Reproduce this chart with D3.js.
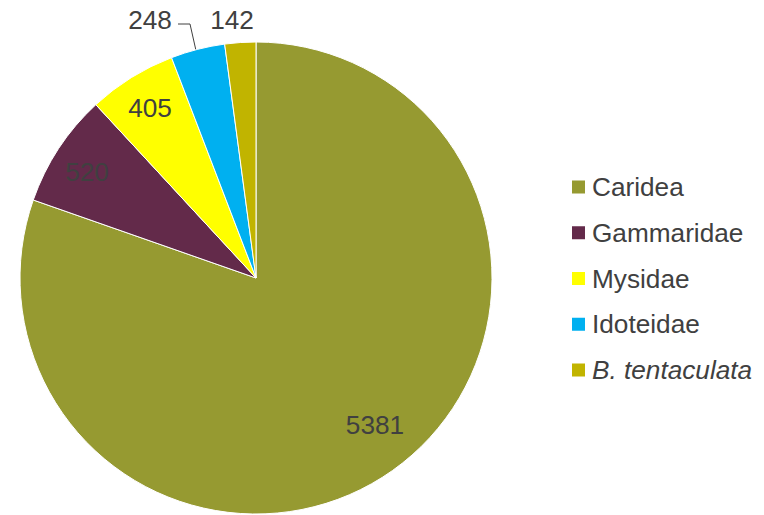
<!DOCTYPE html>
<html><head><meta charset="utf-8">
<script src="https://cdn.jsdelivr.net/npm/d3@7"></script>
<style>body{margin:0;background:#fff}svg{display:block}text{font-family:"Liberation Sans",Arial,sans-serif}</style>
</head><body>
<svg id="c" width="764" height="515"></svg>
<script>
const categories = ["Caridea","Gammaridae","Mysidae","Idoteidae","B. tentaculata"];
const values = [5381,520,405,248,142];
const colors = ["#969A31","#632A4A","#FFFF00","#00B0F0","#C1B400"];

const svg = d3.select("#c");
const cx = 256, cy = 278, R = 236;
const pie = d3.pie().sort(null).value(d => d)(values);
const arc = d3.arc().innerRadius(0).outerRadius(R);
const g = svg.append("g").attr("transform", `translate(${cx},${cy})`);
g.selectAll("path").data(pie).join("path")
  .attr("d", arc).attr("fill", (d,i) => colors[i])
  .attr("stroke", "#fff").attr("stroke-width", 1);

const lab = (d, r) => {
  const a = (d.startAngle + d.endAngle) / 2;
  return [r * Math.sin(a), -r * Math.cos(a)];
};
const txt = "#404040";
const fs = 26.2;
const labelPos = [[375,425],[87,172],[150,108],[150,20],[232,20]];
pie.forEach((d, i) => {
  const p = [labelPos[i][0] - cx, labelPos[i][1] - cy];
  if (i === 3) {
    const e = lab(d, R);
    g.append("path")
      .attr("d", `M${e[0]-2},${e[1]} L${190-cx},${24-cy} L${178-cx},${24-cy}`)
      .attr("fill", "none").attr("stroke", "#404040").attr("stroke-width", 1);
  }
  g.append("text").attr("x", p[0]).attr("y", p[1]).attr("dy", "0.35em")
    .attr("text-anchor", "middle").attr("font-size", fs).attr("fill", txt)
    .text(d3.format("d")(values[i]));
});

const leg = svg.append("g").attr("transform", "translate(572,187)");
const rows = leg.selectAll("g").data(categories).join("g")
  .attr("transform", (d,i) => `translate(0,${i * 45.75})`);
rows.append("rect").attr("x", 0).attr("y", -6.5).attr("width", 13).attr("height", 13)
  .attr("fill", (d,i) => colors[i]);
rows.append("text").attr("x", 20).attr("y", 0).attr("dy", "0.35em")
  .attr("font-size", fs).attr("fill", txt)
  .attr("font-style", (d,i) => i === 4 ? "italic" : "normal")
  .text(d => d);
</script>
</body></html>
